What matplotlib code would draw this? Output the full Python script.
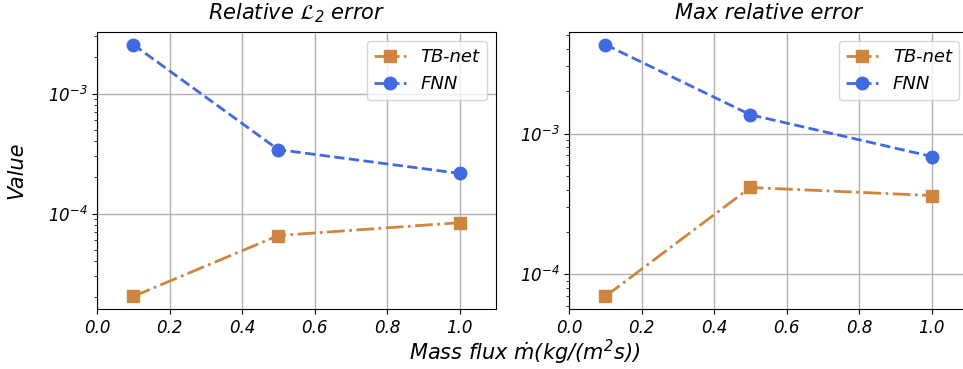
import matplotlib.pyplot as plt
from matplotlib.ticker import LogLocator, NullFormatter

plt.rcParams['font.family'] = ['DejaVu Sans']
plt.rcParams['font.style'] = 'italic'
plt.rcParams['mathtext.fontset'] = 'dejavusans'

mass_flux = [0.1, 0.5, 1.0]

# relative L2 error
l2_tbnet = [2.04e-5, 6.56e-5, 8.4e-5]
l2_fnn = [2.56e-3, 3.41e-4, 2.16e-4]

# max relative error
max_tbnet = [6.98e-5, 4.14e-4, 3.63e-4]
max_fnn = [4.28e-3, 1.36e-3, 6.87e-4]

titles = [r'Relative $\mathcal{L}_2$ error', 'Max relative error']
panels = [(l2_tbnet, l2_fnn), (max_tbnet, max_fnn)]

fig = plt.figure(figsize=(9.63, 3.69), dpi=100)
axes = [fig.add_axes([0.1007, 0.1626, 0.4143, 0.7507]),
        fig.add_axes([0.5909, 0.1626, 0.4143, 0.7507])]

for ax, title, (tb, fnn) in zip(axes, titles, panels):
    ax.plot(mass_flux, tb, color='peru', linestyle='-.', marker='s',
            markersize=9, linewidth=2, label='TB-net')
    ax.plot(mass_flux, fnn, color='royalblue', linestyle='--', marker='o',
            markersize=9, linewidth=2, label='FNN')
    ax.set_yscale('log')
    ax.yaxis.set_minor_locator(LogLocator(base=10, subs=range(2, 10)))
    ax.yaxis.set_minor_formatter(NullFormatter())
    ax.set_xlim(0, 1.1)
    ax.set_xticks([0.0, 0.2, 0.4, 0.6, 0.8, 1.0])
    ax.grid(True, color='#b0b0b0', linewidth=1)
    ax.set_title(title, fontsize=15, style='italic', pad=9)
    ax.tick_params(labelsize=12)
    for lab in ax.get_xticklabels() + ax.get_yticklabels():
        lab.set_style('italic')
    ax.legend(loc='upper right', prop={'style': 'italic', 'size': 13},
              handlelength=1.8)

axes[0].set_ylabel('Value', fontsize=15, style='italic', labelpad=15)
fig.text(0.545, 0.045, r'Mass flux $\dot{m}(kg/(m^2s))$', fontsize=15,
         style='italic', ha='center', va='center')

fig.savefig('out.png', dpi=100)
